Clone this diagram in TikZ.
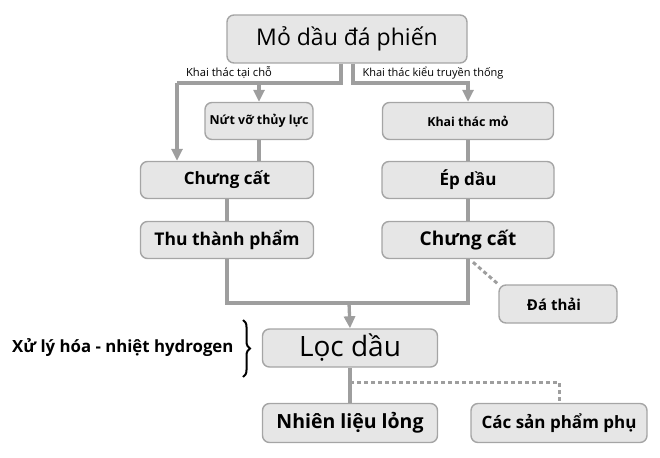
\documentclass[tikz,border=0pt]{standalone}
\usepackage{fontspec}
\setmainfont{Open Sans}
\usetikzlibrary{positioning, arrows.meta, decorations.pathreplacing, calc}
\definecolor{boxfill}{RGB}{230,230,230}
\definecolor{boxline}{RGB}{165,165,165}
\definecolor{flowgray}{RGB}{158,158,158}
\tikzset{
  stage/.style={draw=boxline, fill=boxfill, line width=1.4pt, rounded corners=7pt, inner sep=0pt, text=black},
  flowline/.style={draw=flowgray, line width=3.3pt},
  flowarrow/.style={flowline, -{Triangle[width=11pt,length=12pt]}},
  dotline/.style={draw=flowgray, line width=3pt, dash pattern=on 4pt off 3pt},
}
\newcommand{\fsz}[1]{\fontsize{#1}{#1}\selectfont}

\begin{document}
\begin{tikzpicture}[x=1pt, y=-1pt]
\useasboundingbox (0,0) rectangle (660,457);

% Hop tren cung
\node[stage, minimum width=240, minimum height=48, font=\fsz{23}] (mo) at (347,39) {Mỏ dầu đá phiến};

% Hai cach khai thac
\node[stage, minimum width=108, minimum height=37, font=\bfseries\fsz{12.4}] (nut) at (259,121) {Nứt vỡ thủy lực};
\node[stage, minimum width=171, minimum height=37, font=\bfseries\fsz{12.4}] (khai) at (468,121) {Khai thác mỏ};

% Cot trai
\node[stage, minimum width=173, minimum height=37, font=\bfseries\fsz{17}] (chungL) at (227,180) {Chưng cất};
\node[stage, minimum width=173, minimum height=37, font=\bfseries\fsz{17.5}] (thu) at (227,240) {Thu thành phẩm};

% Cot phai
\node[stage, minimum width=172, minimum height=37, font=\bfseries\fsz{17}] (ep) at (468,180) {Ép dầu};
\node[stage, minimum width=172, minimum height=37, font=\bfseries\fsz{19}] (chungR) at (468,240) {Chưng cất};
\node[stage, minimum width=118, minimum height=38, font=\bfseries\fsz{15}] (thai) at (558,304) {\hspace*{-8pt}Đá thải};

% Loc dau va san pham
\node[stage, minimum width=175, minimum height=38, font=\fsz{28}] (loc) at (350,348) {Lọc dầu};
\node[stage, minimum width=175, minimum height=39, font=\bfseries\fsz{19.5}] (nhien) at (350,423) {Nhiên liệu lỏng};
\node[stage, minimum width=176, minimum height=39, font=\bfseries\fsz{17}] (cac) at (559,423) {Các sản phẩm phụ};

% Nhan
\node[font=\fsz{11.2}] (taicho) at (229,73) {Khai thác tại chỗ};
\node[font=\fsz{11}] (truyen) at (433,73) {Khai thác kiểu truyền thống};
\node[font=\bfseries\fsz{16.8}, anchor=east] (xuly) at (237,348) {Xử lý hóa - nhiệt hydrogen};
\coordinate (bTop) at (243,320);
\coordinate (bBot) at (243,377);
\draw[decorate, decoration={brace, amplitude=7pt}, line width=2pt] (bTop) -- (bBot);

% Nhanh
\coordinate (splitL) at (341,83);
\coordinate (splitR) at (353,83);
\coordinate (farL) at (177,83);
\coordinate (join) at (349,303);
\coordinate (dotY) at (350,382);

\draw[flowline] (mo.south -| splitL) -- (splitL) -- (farL);
\draw[flowarrow] (farL) -- (farL |- chungL.north);
\draw[flowarrow] (nut.north |- splitL) -- (nut.north);
\draw[flowarrow] (mo.south -| splitR) -- (splitR) -| (khai.north);

\draw[flowline] (nut.south) -- (nut.south |- chungL.north);
\draw[flowline] (chungL) -- (thu);
\draw[flowline] (khai) -- (ep);
\draw[flowline] (ep) -- (chungR);

\draw[flowline] (thu.south) |- (join) -| (chungR.south);
\draw[flowarrow] (join) -- (loc.north);
\draw[dotline] ($(chungR.south)+(5,3)$) -- (thai.north west);

\draw[flowline] (loc.south) -- (nhien.north);
\draw[dotline] (dotY) -| (cac.north);

\end{tikzpicture}
\end{document}
